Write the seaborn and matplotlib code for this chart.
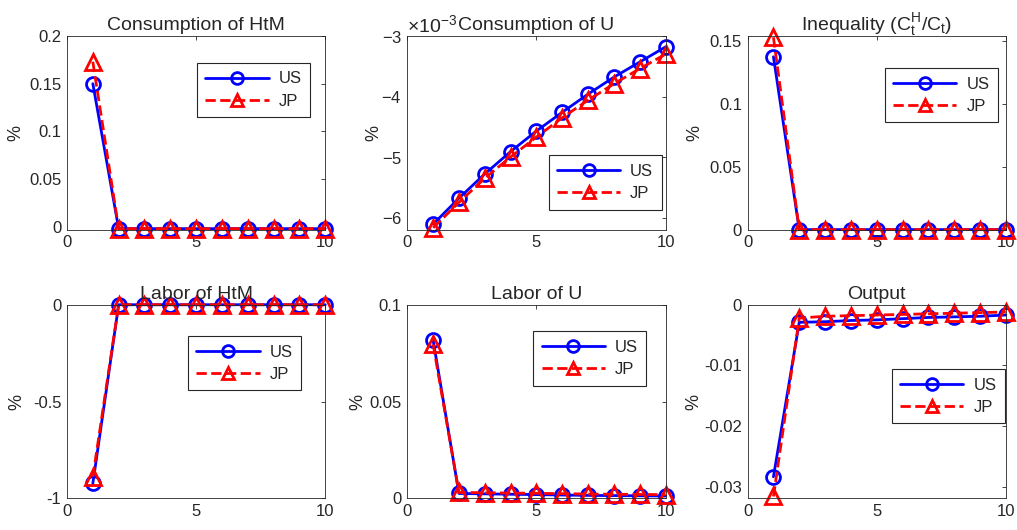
'''
impulse responses, US vs JP, 2x3 panels
'''

import numpy as np
import pandas as pd
import seaborn as sns
import matplotlib
matplotlib.use("Agg")
import matplotlib.pyplot as plt
from matplotlib.ticker import FuncFormatter

# --- Data ---
periods = [1, 2, 3, 4, 5, 6, 7, 8, 9, 10]

us_cons_htm = [0.150, -0.002, -0.002, -0.002, -0.002, -0.002, -0.002, -0.002, -0.002, -0.002]
jp_cons_htm = [0.173, -0.002, -0.002, -0.002, -0.002, -0.002, -0.002, -0.002, -0.002, -0.002]

us_cons_u = [-6.11e-3, -5.68e-3, -5.28e-3, -4.91e-3, -4.57e-3, -4.26e-3, -3.96e-3, -3.68e-3, -3.43e-3, -3.18e-3]
jp_cons_u = [-6.17e-3, -5.75e-3, -5.35e-3, -5.00e-3, -4.67e-3, -4.35e-3, -4.06e-3, -3.79e-3, -3.54e-3, -3.30e-3]

us_ineq = [0.1375, 0, 0, 0, 0, 0, 0, 0, 0, 0]
jp_ineq = [0.153, 0, 0, 0, 0, 0, 0, 0, 0, 0]

us_labor_htm = [-0.923, 0, 0, 0, 0, 0, 0, 0, 0, 0]
jp_labor_htm = [-0.889, 0, 0, 0, 0, 0, 0, 0, 0, 0]

us_labor_u = [0.0816, 0.0025, 0.0023, 0.0021, 0.0019, 0.0017, 0.0015, 0.0014, 0.0013, 0.0012]
jp_labor_u = [0.0795, 0.0030, 0.0029, 0.0027, 0.0026, 0.0024, 0.0022, 0.0021, 0.0020, 0.0019]

us_output = [-0.02835, -0.0029, -0.0028, -0.0026, -0.0025, -0.0023, -0.0021, -0.0020, -0.0019, -0.0017]
jp_output = [-0.0316, -0.0022, -0.0019, -0.0018, -0.0017, -0.0016, -0.0015, -0.0014, -0.0013, -0.0012]

titles = ["Consumption of HtM", "Consumption of U", r"Inequality ($\mathregular{C_t^H/C_t}$)",
          "Labor of HtM", "Labor of U", "Output"]
series = [(us_cons_htm, jp_cons_htm), (us_cons_u, jp_cons_u), (us_ineq, jp_ineq),
          (us_labor_htm, jp_labor_htm), (us_labor_u, jp_labor_u), (us_output, jp_output)]

# --- Panel settings ---
ylims = [(-0.003, 0.2), (-6.2e-3, -3e-3), (0, 0.154), (-1, 0), (0, 0.1), (-0.0319, 0)]
yticks = [[0, 0.05, 0.1, 0.15, 0.2], [-6e-3, -5e-3, -4e-3, -3e-3], [0, 0.05, 0.1, 0.15],
          [-1, -0.5, 0], [0, 0.05, 0.1], [-0.03, -0.02, -0.01, 0]]
legend_pos = [(0.504, 0.860), (0.547, 0.383), (0.531, 0.834),
              (0.469, 0.837), (0.488, 0.862), (0.558, 0.667)]
ylabel_x = [-0.165, -0.095, -0.17, -0.16, -0.16, -0.175]

sns.set_theme(style="white")
plt.rcParams["font.family"] = ["Liberation Sans", "DejaVu Sans"]
plt.rcParams["axes.unicode_minus"] = False
plt.rcParams["mathtext.fontset"] = "custom"
plt.rcParams["mathtext.rm"] = "Liberation Sans"
plt.rcParams["mathtext.it"] = "Liberation Sans"

fig, axes = plt.subplots(2, 3, figsize=(10.17, 5.30), dpi=100)
fig.subplots_adjust(left=0.0659, right=0.989, top=0.932, bottom=0.0598,
                    wspace=0.318, hspace=0.388)

for i, ax in enumerate(axes.flat):
    us, jp = series[i]
    sns.lineplot(x=periods, y=us, ax=ax, color="#0000ff", linewidth=2,
                 marker="o", markersize=10, markerfacecolor="none",
                 markeredgecolor="#0000ff", markeredgewidth=2, label="US", clip_on=False)
    sns.lineplot(x=periods, y=jp, ax=ax, color="#ff0000", linewidth=2, linestyle="--",
                 dashes=(4, 2), marker="^", markersize=11, markerfacecolor="none",
                 markeredgecolor="#ff0000", markeredgewidth=2, label="JP", clip_on=False)

    ax.set_xlim(0, 10)
    ax.set_xticks([0, 5, 10])
    ax.set_ylim(*ylims[i])
    ax.set_yticks(yticks[i])
    if i == 1:
        ax.ticklabel_format(axis="y", style="sci", scilimits=(0, 0), useMathText=True)
    else:
        ax.yaxis.set_major_formatter(FuncFormatter(lambda v, p: f"{v:g}"))

    ax.set_title(titles[i], fontsize=14, pad=4)
    ax.set_ylabel("%", fontsize=13)
    ax.yaxis.set_label_coords(ylabel_x[i], 0.5)
    ax.tick_params(direction="in", top=True, right=True, length=3, width=0.6,
                   labelsize=12, colors="#262626", pad=4)
    ax.yaxis.get_offset_text().set_fontsize(14)
    for s in ax.spines.values():
        s.set_color("#262626")
        s.set_linewidth(0.6)

    leg = ax.legend(loc="upper left", bbox_to_anchor=legend_pos[i], borderaxespad=0,
                    fontsize=12, handlelength=3.8, handletextpad=0.6, labelspacing=0.45,
                    borderpad=0.5, markerscale=0.85, fancybox=False, framealpha=1)
    leg.get_frame().set_edgecolor("#262626")
    leg.get_frame().set_linewidth(0.8)

fig.savefig("out.png", dpi=100)
